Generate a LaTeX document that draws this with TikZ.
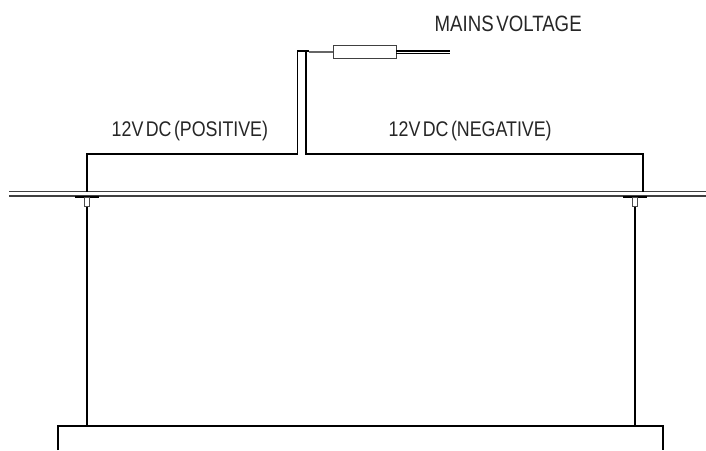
\documentclass[tikz,border=0pt]{standalone}
\usepackage{fontspec}
\setmainfont[FakeStretch=0.84,WordSpace=0.5]{Liberation Sans}
\tikzset{
  wire/.style={draw=black,line width=1.7pt,line join=miter},
  thin wire/.style={draw=black,line width=1.1pt},
  ceiling/.style={draw=black!75,line width=1.2pt},
  feed/.style={draw=black!60,line width=2.6pt},
  lbl/.style={font=\fontsize{21.2}{24}\selectfont,text=black!85,inner sep=0pt,anchor=base west},
  lblbig/.style={lbl,font=\fontsize{22.2}{24}\selectfont},
  driver/.style={draw=black!75,line width=1.2pt,fill=white,minimum width=62.5pt,minimum height=13.4pt,inner sep=0pt},
  plate/.style={draw=none,fill=black,minimum width=24pt,minimum height=1.8pt,inner sep=0pt},
  stud/.style={draw=black!70,fill=white,line width=1pt,minimum width=5pt,minimum height=8.5pt,inner sep=0pt}
}
\begin{document}
\begin{tikzpicture}[x=1pt,y=-1pt]
\useasboundingbox (0,0) rectangle (706,450);
% ceiling
\coordinate (cl1) at (9,191.7); \coordinate (cr1) at (706,191.7);
\coordinate (cl2) at (9,196); \coordinate (cr2) at (706,196);
\draw[ceiling] (cl1) -- (cr1);
\draw[ceiling] (cl2) -- (cr2);
% driver
\node[driver] (drv) at (365,52) {};
\coordinate (bendL) at (297.5,50.7);
\coordinate (bendR) at (306.3,52);
\coordinate (bendE) at (309,50.7);
\coordinate (feedA) at (309,52);
\coordinate (mA) at (450,51);
\coordinate (mB) at (450,53.5);
\coordinate (mA0) at (396,51);
\coordinate (mB0) at (396,53.5);
\draw[thin wire] (mA0) -- (mA);
\draw[thin wire] (mB0) -- (mB);
\draw[feed] (feedA) -- (drv.west);
% plates and studs
\node[plate] (pl) at (87,197) {};
\node[plate] (pr) at (635,197) {};
\node[stud] (sl) at (87,202) {};
\node[stud] (sr) at (635,202) {};
% lamp
\coordinate (lampLB) at (58.3,450);
\coordinate (lampLT) at (58.3,425.7);
\coordinate (lampRT) at (663.3,425.7);
\coordinate (lampRB) at (663.3,450);
\draw[wire] (lampLB) -- (lampLT) -- (lampRT) -- (lampRB);
% suspension wires
\coordinate (hl) at (87,425.7);
\coordinate (hr) at (635,425.7);
\draw[wire] (sl.south) -- (hl);
\draw[wire] (sr.south) -- (hr);
% 12V feed
\coordinate (tl) at (87,153.7);
\coordinate (il) at (297.5,153.7);
\coordinate (ir) at (306.3,153.7);
\coordinate (tr) at (642.7,153.7);
\coordinate (al) at (87,191.7);
\coordinate (ar) at (642.7,191.7);
\draw[wire] (al) -- (tl) -- (il) -- (bendL) -- (bendE);
\draw[wire] (ar) -- (tr) -- (ir) -- (bendR);
% labels
\node[lblbig] (t1) at (434.5,31) {MAINS VOLTAGE};
\node[lbl] (t2) at (111.5,136) {12V DC (POSITIVE)};
\node[lbl] (t3) at (388.5,136) {12V DC (NEGATIVE)};
\end{tikzpicture}
\end{document}
